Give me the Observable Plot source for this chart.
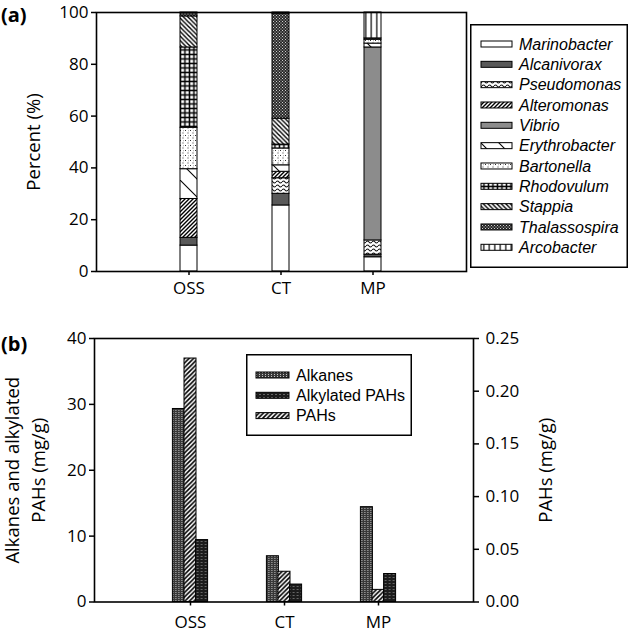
<!DOCTYPE html>
<html><head><meta charset="utf-8">
<script src="https://cdn.jsdelivr.net/npm/d3@7"></script>
<script src="https://cdn.jsdelivr.net/npm/@observablehq/plot@0.6"></script>
<style>
body{margin:0;background:#fff;}
#fig{position:relative;width:628px;height:633px;overflow:hidden;font-family:"Open Sans",sans-serif;background:#fff;}
#fig > svg, #fig > div{position:absolute;}
.plabel{font-weight:bold;font-size:20px;line-height:1;}
</style></head><body>
<svg width="0" height="0" style="position:absolute"><defs>
<pattern id="pPseudo" width="6" height="4" patternUnits="userSpaceOnUse"><rect width="6" height="4" fill="#fff"/><path d="M0,2 Q1.5,0 3,2 T6,2" fill="none" stroke="#111" stroke-width="1.1"/></pattern>
<pattern id="pAlter" width="4" height="4" patternUnits="userSpaceOnUse"><rect width="4" height="4" fill="#fff"/><path d="M-1,1 L1,-1 M0,4 L4,0 M3,5 L5,3" stroke="#000" stroke-width="1.4"/></pattern>
<pattern id="pEry" width="18" height="18" patternUnits="userSpaceOnUse"><rect width="18" height="18" fill="#fff"/><path d="M-1,-1 L19,19" stroke="#000" stroke-width="1.1"/></pattern>
<pattern id="pBart" width="5" height="5" patternUnits="userSpaceOnUse"><rect width="5" height="5" fill="#fff"/><rect x="0" y="0" width="1" height="1" fill="#333"/><rect x="2.5" y="2.5" width="1" height="1" fill="#333"/><rect x="3.2" y="0.4" width="0.8" height="0.8" fill="#777"/></pattern>
<pattern id="pRhodo" width="4.5" height="4.5" patternUnits="userSpaceOnUse"><rect width="4.5" height="4.5" fill="#000"/><rect x="1.2" y="1.2" width="3" height="3" fill="#fff"/></pattern>
<pattern id="pStap" width="4.5" height="4.5" patternUnits="userSpaceOnUse"><rect width="4.5" height="4.5" fill="#fff"/><path d="M-1,3.5 L1,5.5 M0,0 L4.5,4.5 M3.5,-1 L5.5,1" stroke="#000" stroke-width="1.4"/></pattern>
<pattern id="pThal" width="3" height="3" patternUnits="userSpaceOnUse"><rect width="3" height="3" fill="#2a2a2a"/><rect x="0" y="0" width="1" height="1" fill="#cfcfcf"/><rect x="1.5" y="1.5" width="1" height="1" fill="#cfcfcf"/></pattern>
<pattern id="pArco" width="5.5" height="5" patternUnits="userSpaceOnUse"><rect width="5.5" height="5" fill="#fff"/><line x1="2.75" y1="0" x2="2.75" y2="5" stroke="#000" stroke-width="1.2"/></pattern>
<pattern id="pAlk" width="3" height="2" patternUnits="userSpaceOnUse"><rect width="3" height="2" fill="#383838"/><rect x="1" y="0" width="1" height="1" fill="#c4c4c4"/></pattern>
<pattern id="pAlky" width="4" height="3" patternUnits="userSpaceOnUse"><rect width="4" height="3" fill="#1c1c1c"/><rect x="1.5" y="1" width="1" height="1" fill="#b0b0b0"/></pattern>
<pattern id="pPAH" width="4.5" height="4.5" patternUnits="userSpaceOnUse"><rect width="4.5" height="4.5" fill="#fff"/><path d="M-1,1 L1,-1 M0,4.5 L4.5,0 M3.5,5.5 L5.5,3.5" stroke="#000" stroke-width="1.6"/></pattern>
</defs></svg>
<div id="fig"></div>
<script>
// ---- data ----
const sites = ["OSS", "CT", "MP"];
const species = ["Marinobacter", "Alcanivorax", "Pseudomonas", "Alteromonas", "Vibrio", "Erythrobacter", "Bartonella", "Rhodovulum", "Stappia", "Thalassospira", "Arcobacter"];
const pctOSS = [10, 3, 0, 15, 0, 11.5, 16, 31, 12, 1.5, 0];
const pctCT  = [25.5, 4.5, 6, 2.5, 0, 2.5, 6.5, 1.5, 10, 40.5, 0.5];
const pctMP  = [5.5, 1, 5.5, 0, 74.5, 1.5, 1.5, 0, 0, 0.5, 10];
const percentTicks = [0, 20, 40, 60, 80, 100];

const seriesB = ["Alkanes", "Alkylated PAHs", "PAHs"];
const alkanes = [29.3, 6.95, 14.4];
const alkylatedPAHs = [9.4, 2.65, 4.25];
const pahs = [0.231, 0.0287, 0.0115];
const leftTicksB = [0, 10, 20, 30, 40];
const rightTicksB = [0, 0.05, 0.10, 0.15, 0.20, 0.25];

// ---- styles ----
const speciesFill = ["#ffffff", "#595959", "url(#pPseudo)", "url(#pAlter)", "#8c8c8c", "url(#pEry)", "url(#pBart)", "url(#pRhodo)", "url(#pStap)", "url(#pThal)", "url(#pArco)"];
const seriesFill = ["url(#pAlk)", "url(#pAlky)", "url(#pPAH)"];
const FONT = '"Open Sans", sans-serif';
const TICK_FS = 17;
const fig = document.getElementById("fig");

// ---- panel (a) ----
const pctBySite = [pctOSS, pctCT, pctMP];
const dataA = [];
sites.forEach((s, i) => species.forEach((sp, j) => {
  const v = pctBySite[i][j];
  if (v > 0) dataA.push({site: s, species: sp, value: v});
}));

const plotA = Plot.plot({
  width: 470, height: 300,
  marginLeft: 96, marginRight: 4, marginTop: 12, marginBottom: 29,
  style: {fontFamily: FONT, fontSize: TICK_FS + "px", background: "transparent", color: "#000"},
  x: {type: "band", domain: sites, paddingInner: 0.811, paddingOuter: 0.9054},
  y: {domain: [0, 100]},
  color: {type: "ordinal", domain: species, range: speciesFill},
  marks: [
    Plot.barY(dataA, {x: "site", y: "value", fill: "species", stroke: "black", strokeWidth: 1}),
    Plot.frame({stroke: "black", strokeWidth: 1.6}),
    Plot.axisY(percentTicks, {tickSize: 5, tickPadding: 3, fontSize: TICK_FS, label: null, strokeWidth: 1.5}),
    Plot.axisX({tickSize: 4, tickPadding: 6, fontSize: TICK_FS, label: null, strokeWidth: 1.5}),
    Plot.text(["Percent (%)"], {text: d => d, frameAnchor: "left", textAnchor: "middle", lineAnchor: "middle", dx: -62.5, rotate: -90, fontSize: 18.5})
  ]
});
plotA.style.left = "0px"; plotA.style.top = "0px";
fig.appendChild(plotA);

// ---- panel (b) ----
const wB = 628, mLB = 94, mRB = 155;
const padIn = 0.8776, padOut = 0.9388;
const stepB = (wB - mLB - mRB) / (sites.length - padIn + 2 * padOut);
const bw = stepB * (1 - padIn);
const pahToLeft = 40 / 0.25;
const dataB = sites.map((s, i) => ({site: s, alkanes: alkanes[i], alkylated: alkylatedPAHs[i], pahs: pahs[i]}));

const plotB = Plot.plot({
  width: wB, height: 333,
  marginLeft: mLB, marginRight: mRB, marginTop: 38, marginBottom: 31.5,
  style: {fontFamily: FONT, fontSize: TICK_FS + "px", background: "transparent", color: "#000"},
  x: {type: "band", domain: sites, paddingInner: padIn, paddingOuter: padOut},
  y: {domain: [0, 40]},
  marks: [
    Plot.barY(dataB, {x: "site", y: "alkanes", fill: seriesFill[0], stroke: "black", dx: -bw}),
    Plot.barY(dataB, {x: "site", y: d => d.pahs * pahToLeft, fill: seriesFill[2], stroke: "black"}),
    Plot.barY(dataB, {x: "site", y: "alkylated", fill: seriesFill[1], stroke: "black", dx: bw}),
    Plot.frame({stroke: "black", strokeWidth: 1.6}),
    Plot.axisY(leftTicksB, {anchor: "left", tickSize: 5, tickPadding: 3, fontSize: TICK_FS, label: null, strokeWidth: 1.5}),
    Plot.axisY(rightTicksB.map(v => v * pahToLeft), {anchor: "right", tickSize: 5, tickPadding: 7, fontSize: TICK_FS, label: null, strokeWidth: 1.5, tickFormat: d => (d / pahToLeft).toFixed(2)}),
    Plot.axisX({tickSize: 4, tickPadding: 10, fontSize: TICK_FS, label: null, strokeWidth: 1.5}),
    Plot.text(["Alkanes and alkylated\nPAHs (mg/g)"], {text: d => d, frameAnchor: "left", textAnchor: "middle", lineAnchor: "middle", dx: -70.5, rotate: -90, lineHeight: 1.4, fontSize: 18.5}),
    Plot.text(["PAHs (mg/g)"], {text: d => d, frameAnchor: "right", textAnchor: "middle", lineAnchor: "middle", dx: 73, rotate: -90, fontSize: 18.5})
  ]
});
plotB.style.left = "0px"; plotB.style.top = "300px";
fig.appendChild(plotB);

// ---- legends ----
function legend(names, fills, opt) {
  const svg = d3.select(fig).append("svg")
    .attr("width", opt.w).attr("height", opt.h)
    .style("left", opt.x + "px").style("top", opt.y + "px");
  svg.append("rect").attr("x", 0.75).attr("y", 0.75).attr("width", opt.w - 1.5).attr("height", opt.h - 1.5)
    .attr("fill", "#fff").attr("stroke", "#000").attr("stroke-width", 1.5);
  names.forEach((n, i) => {
    const cy = opt.y0 + i * opt.dy;
    svg.append("rect").attr("x", opt.sx).attr("y", cy - opt.sh / 2).attr("width", opt.sw).attr("height", opt.sh)
      .attr("fill", fills[i]).attr("stroke", "#000").attr("stroke-width", 1);
    svg.append("text").attr("x", opt.tx).attr("y", cy).attr("dy", "0.36em")
      .attr("font-family", '"Liberation Sans", Arial, sans-serif').attr("font-size", opt.fs)
      .attr("font-style", opt.italic ? "italic" : "normal").text(n);
  });
}
legend(species, speciesFill, {x: 470, y: 24, w: 158, h: 244, y0: 20, dy: 20.33, sx: 11, sw: 31, sh: 6, tx: 49, fs: 16, italic: true});
legend(seriesB, seriesFill, {x: 246, y: 354, w: 166, h: 82, y0: 21, dy: 20.3, sx: 10, sw: 33, sh: 6, tx: 50, fs: 16, italic: false});

// panel labels
const la = document.createElement("div"); la.className = "plabel"; la.textContent = "(a)";
la.style.left = "1px"; la.style.top = "5px"; fig.appendChild(la);
const lb = document.createElement("div"); lb.className = "plabel"; lb.textContent = "(b)";
lb.style.left = "1px"; lb.style.top = "334px"; fig.appendChild(lb);
</script>
</body></html>
